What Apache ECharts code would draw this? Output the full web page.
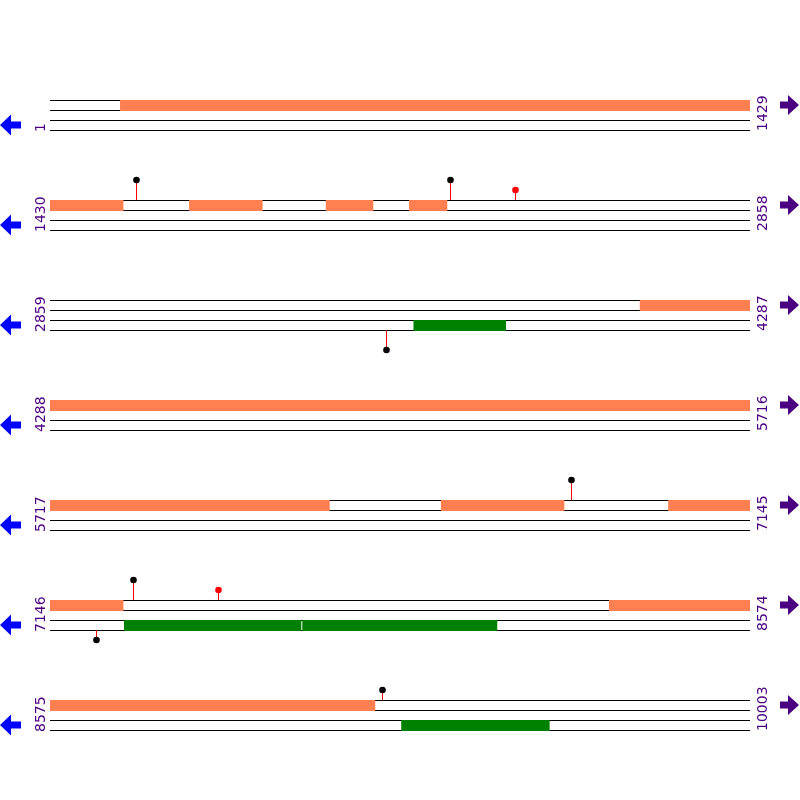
<!DOCTYPE html>
<html>
<head>
<meta charset="utf-8">
<script src="https://cdn.jsdelivr.net/npm/echarts@6/dist/echarts.min.js"></script>
<style>html,body{margin:0;padding:0;background:#fff}#c{width:800px;height:800px}</style>
</head>
<body>
<div id="c"></div>
<script>
// ---- data ----
var rowStarts = [1, 1430, 2859, 4288, 5717, 7146, 8575];
var rowEnds   = [1429, 2858, 4287, 5716, 7145, 8574, 10003];
var rowLength = 1429;
// forward-strand features (orange) [start, end]
var forwardFeatures = [
  [144, 1579], [1714, 1863], [1993, 2089], [2163, 2240],
  [4063, 6287], [6515, 6766], [6979, 7295], [8287, 9238]
];
// reverse-strand features (green) [start, end]
var reverseFeatures = [
  [3601, 3789], [7297, 7658], [7661, 8058], [9292, 9594]
];
// lollipops: [position, strand (1 = forward, -1 = reverse), size (2 tall, 1 short), colour]
var lollipops = [
  [1606, 1, 2, 'black'], [2247, 1, 2, 'black'], [2379, 1, 1, 'red'],
  [3545, -1, 2, 'black'], [6781, 1, 2, 'black'],
  [7315, 1, 2, 'black'], [7489, 1, 1, 'red'], [7240, -1, 1, 'black'],
  [9253, 1, 1, 'black']
];

// ---- build ----
var LABEL = '#4B0082';
var FONT = '14px "DejaVu Sans", sans-serif';
function rowOf(p) { for (var i = 0; i < rowStarts.length; i++) if (p <= rowEnds[i]) return i; return rowStarts.length - 1; }
function splitFeatures(list, strand) {
  var out = [];
  list.forEach(function (f) {
    for (var r = 0; r < rowStarts.length; r++) {
      var a = Math.max(f[0], rowStarts[r]), b = Math.min(f[1], rowEnds[r]);
      if (a <= b) out.push([r, a - rowStarts[r], b - rowStarts[r] + 1, strand]);
    }
  });
  return out;
}
var boxData = splitFeatures(forwardFeatures, 1).concat(splitFeatures(reverseFeatures, -1));
var popData = lollipops.map(function (l) {
  var r = rowOf(l[0]);
  return [r, l[0] - rowStarts[r] + 0.5, l[1], l[2], l[3]];
});
var rowData = rowStarts.map(function (s, i) { return [i]; });

function px(v) { return Math.round(v) + 0.5; }

var chart = echarts.init(document.getElementById('c'), null, { renderer: 'canvas' });
chart.setOption({
  animation: false,
  backgroundColor: '#ffffff',
  grid: { left: 50, right: 50, top: 0, bottom: 0 },
  xAxis: { type: 'value', min: 0, max: rowLength, show: false },
  yAxis: { type: 'value', min: -1, max: 7, inverse: true, show: false },
  series: [
    {
      type: 'custom', z: 1, data: rowData,
      renderItem: function (params, api) {
        var r = api.value(0);
        var p0 = api.coord([0, r]), p1 = api.coord([rowLength, r]);
        var xl = p0[0], xr = p1[0], top = p0[1];
        var children = [];
        [0, 0.1, 0.2, 0.3].forEach(function (o) {
          var y = px(api.coord([0, r + o])[1]);
          children.push({ type: 'line', shape: { x1: xl, y1: y, x2: xr, y2: y }, style: { stroke: '#000', lineWidth: 1 } });
        });
        // labels
        children.push({ type: 'text', x: xl - 9, y: top + 32, rotation: Math.PI / 2,
          style: { text: String(rowStarts[r]), fill: LABEL, font: FONT, align: 'left', verticalAlign: 'middle' } });
        children.push({ type: 'text', x: xr + 13, y: top + 31, rotation: Math.PI / 2,
          style: { text: String(rowEnds[r]), fill: LABEL, font: FONT, align: 'left', verticalAlign: 'middle' } });
        // arrows
        var cyL = api.coord([0, r + 0.25])[1], ax = xl - 50;
        children.push({ type: 'polygon', shape: { points: [[ax, cyL], [ax + 11, cyL - 10.5], [ax + 11, cyL - 3.5], [ax + 21, cyL - 3.5], [ax + 21, cyL + 3.5], [ax + 11, cyL + 3.5], [ax + 11, cyL + 10.5]] }, style: { fill: '#0000FF' } });
        var cyR = api.coord([0, r + 0.05])[1], bx = xr + 49;
        children.push({ type: 'polygon', shape: { points: [[bx, cyR], [bx - 11, cyR - 10], [bx - 11, cyR - 3.5], [bx - 19, cyR - 3.5], [bx - 19, cyR + 3.5], [bx - 11, cyR + 3.5], [bx - 11, cyR + 10]] }, style: { fill: '#4B0082' } });
        return { type: 'group', children: children };
      }
    },
    {
      type: 'custom', z: 2, data: boxData,
      renderItem: function (params, api) {
        var r = api.value(0), s = api.value(3);
        var off = s === 1 ? 0 : 0.2;
        var a = api.coord([api.value(1), r + off]), b = api.coord([api.value(2), r + off + 0.1]);
        return { type: 'rect', shape: { x: a[0], y: Math.round(a[1]), width: b[0] - a[0], height: Math.round(b[1]) - Math.round(a[1]) + 1 },
          style: { fill: s === 1 ? '#FF7F50' : '#008000' } };
      }
    },
    {
      type: 'custom', z: 3, data: popData,
      renderItem: function (params, api) {
        var r = api.value(0), x = api.value(1), s = api.value(2), h = api.value(3);
        var col = popData[params.dataIndex][4];
        var base = s === 1 ? r : r + 0.3;
        var tip = s === 1 ? r - 0.1 * h : r + 0.3 + 0.1 * h;
        var p = api.coord([x, base]), q = api.coord([x, tip]);
        var xx = px(p[0]);
        return { type: 'group', children: [
          { type: 'line', shape: { x1: xx, y1: p[1], x2: xx, y2: q[1] }, style: { stroke: '#FF0000', lineWidth: 1 } },
          { type: 'circle', shape: { cx: xx, cy: q[1], r: 3.3 }, style: { fill: col === 'red' ? '#FF0000' : '#000000' } }
        ] };
      }
    }
  ]
});
</script>
</body>
</html>
